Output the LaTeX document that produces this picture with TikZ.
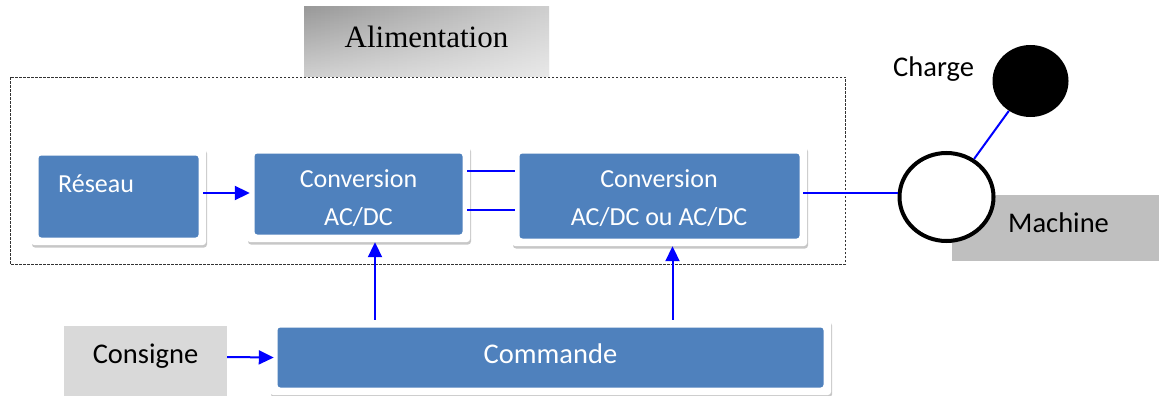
\documentclass[tikz,border=0pt]{standalone}
\usepackage{fontspec}
\usetikzlibrary{arrows.meta,shapes.geometric,shadows,fadings}
\newfontfamily\labfont{Carlito}
\newfontfamily\titlefont{Liberation Serif}
\definecolor{boxblue}{HTML}{4F81BD}
\definecolor{linkblue}{HTML}{0000FF}
\definecolor{machgray}{HTML}{BFBFBF}
\definecolor{setgray}{HTML}{D9D9D9}

\begin{document}
\begin{tikzpicture}[x=1pt,y=-1pt,
  % white framed panel with a blue face and a soft shadow
  panel/.style={rectangle, fill=white, rounded corners=3pt, inner sep=0pt,
    drop shadow={shadow xshift=1pt, shadow yshift=-2.5pt, fill=black!40, opacity=0.55},
    path picture={\fill[boxblue]
      ([shift={(7.5pt,-7.5pt)}]path picture bounding box.north west) rectangle
      ([shift={(-7.5pt,7.5pt)}]path picture bounding box.south east);}},
  intext/.style={text=white, inner sep=0pt, font=\labfont\fontsize{26}{30}\selectfont},
  outtext/.style={text=black, inner sep=0pt, font=\labfont\fontsize{28.5}{32}\selectfont},
  tag/.style={rectangle, inner sep=0pt},
  arr/.style={draw=linkblue, line width=2pt, -{Triangle[length=15pt,width=14pt]}},
  link/.style={draw=linkblue, line width=2pt},
]
\useasboundingbox (0,0) rectangle (1159,396);

% title tab of the power stage: grey ramp, darker towards the top left
\node[tag, minimum width=245pt, minimum height=70pt,
      left color=black!40, right color=black!19] (alim) at (426.5,42) {};
\fill[white, opacity=0.55, path fading=north] (alim.north west) rectangle (alim.south east);
\node[inner sep=0pt, font=\titlefont\fontsize{31}{34}\selectfont, anchor=base] (talim) at (426.5,48) {Alimentation};

% power stage enclosure
\draw[black!80, line width=0.9pt, dash pattern=on 2.5pt off 1.5pt] (10,77) rectangle (845,264);

% converter chain
\node[panel, minimum width=175pt, minimum height=97pt] (reseau) at (118.5,196.5) {};
\node[panel, minimum width=223pt, minimum height=96pt] (conv1) at (358.5,194) {};
\node[panel, minimum width=295pt, minimum height=100pt] (conv2) at (659.5,196) {};
\node[panel, minimum width=561pt, minimum height=75pt] (cmd) at (550.5,357.5) {};

\node[intext, anchor=base west] (treseau) at (58,192) {Réseau};
\node[intext, anchor=base] (tc1a) at (358.5,187) {Conversion};
\node[intext, anchor=base] (tc1b) at (358.5,225) {AC/DC};
\node[intext, anchor=base] (tc2a) at (659,187) {Conversion};
\node[intext, anchor=base] (tc2b) at (659,225) {AC/DC ou AC/DC};
\node[intext, font=\labfont\fontsize{28.5}{32}\selectfont, anchor=base] (tcmd) at (550.5,363) {Commande};

% set-point input
\node[tag, fill=setgray, minimum width=163pt, minimum height=70pt] (consigne) at (145.5,361) {};
\node[outtext, anchor=base] (tcons) at (145.5,363) {Consigne};

% machine and load
\node[tag, fill=machgray, minimum width=207pt, minimum height=66pt] (machbox) at (1055.5,228) {};
\node[outtext, anchor=base west] (tmach) at (1008,232) {Machine};
\node[ellipse, draw=black, fill=white, line width=4pt, inner sep=0pt,
      minimum width=94pt, minimum height=88pt] (machine) at (946.5,197) {};
\node[ellipse, fill=black, inner sep=0pt, minimum width=76pt, minimum height=72pt] (charge) at (1030.5,81) {};
\node[outtext, anchor=base west] (tcharge) at (893,77) {Charge};

% connections
\draw[arr] ([xshift=-3pt,yshift=3.5pt]reseau.east) -- ([xshift=3pt,yshift=1pt]conv1.west);
\draw[link] ([xshift=-3pt,yshift=23pt]conv1.east) -- ([xshift=3pt,yshift=25pt]conv2.west);
\draw[link] ([xshift=-3pt,yshift=-16pt]conv1.east) -- ([xshift=3pt,yshift=-14pt]conv2.west);
\draw[link] ([xshift=-4pt,yshift=3pt]conv2.east) -- ([yshift=4pt]machine.west);
\draw[link] (machine) -- (charge);
\draw[arr] ([yshift=4pt]consigne.east) -- ([xshift=4pt]cmd.west);

\coordinate (up1) at (375,0);
\coordinate (up2) at (672.5,0);
\draw[arr] (cmd.north -| up1) -- (conv1.south -| up1);
\draw[arr] (cmd.north -| up2) -- (conv2.south -| up2);
\end{tikzpicture}
\end{document}
